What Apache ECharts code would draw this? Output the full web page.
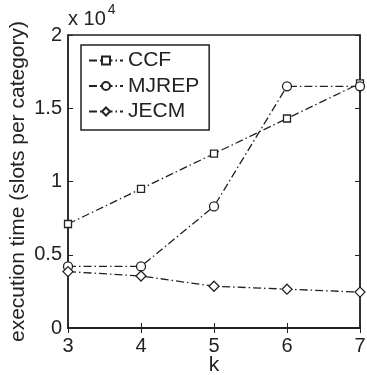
<!DOCTYPE html>
<html><head><meta charset="utf-8">
<script src="https://cdn.jsdelivr.net/npm/echarts@6/dist/echarts.min.js"></script>
<style>html,body{margin:0;padding:0;background:#fff}#c{width:367px;height:375px}</style>
</head><body><div id="c"></div>
<script>
var ks = [3, 4, 5, 6, 7];
var ccf = [7100, 9500, 11900, 14300, 16700];
var mjrep = [4200, 4200, 8300, 16500, 16500];
var jecm = [3850, 3550, 2850, 2650, 2450];
var yTicks = ['0', '0.5', '1', '1.5', '2'];

function pairs(v){ return ks.map(function(k,i){ return [k, v[i]]; }); }
var font = 'Liberation Sans, Arial, sans-serif';
var col = '#222';
var dash = [8, 3, 1.5, 3];
function mk(name, vals, sym, size){
  return {name:name, type:'line', data:pairs(vals), symbol:sym, symbolSize:size,
    showAllSymbol:true,
    lineStyle:{color:col, width:1.3, type:dash},
    itemStyle:{color:'#fff', borderColor:col, borderWidth:1.3},
    emphasis:{disabled:true}, animation:false};
}
var chart = echarts.init(document.getElementById('c'));
chart.setOption({
  animation:false,
  grid:{left:68, right:7, top:35, bottom:47, containLabel:false, outerBoundsMode:'none',
    show:true, borderColor:col, borderWidth:1.5, backgroundColor:'transparent'},
  legend:{left:81, top:45, orient:'vertical', itemGap:4.5, itemWidth:34, itemHeight:10,
    padding:[5,10,8,7], borderColor:col, borderWidth:1.5, backgroundColor:'#fff',
    textStyle:{fontFamily:font, fontSize:21, color:col},
    data:['CCF','MJREP','JECM']},
  xAxis:[{type:'value', min:3, max:7, interval:1, position:'bottom',
    name:'k', nameLocation:'middle', nameGap:27, nameMoveOverlap:false,
    nameTextStyle:{fontFamily:font, fontSize:21, color:col},
    axisLine:{show:true, lineStyle:{color:col, width:1.5}},
    axisTick:{inside:true, length:5, lineStyle:{color:col}},
    axisLabel:{fontFamily:font, fontSize:20, color:col, margin:8},
    splitLine:{show:false}},
   {type:'value', min:3, max:7, interval:1, position:'top',
    axisLine:{show:true, lineStyle:{color:col, width:1.5}},
    axisTick:{inside:true, length:5, lineStyle:{color:col}},
    axisLabel:{show:false}, splitLine:{show:false}}],
  yAxis:[{type:'value', min:0, max:20000, interval:5000, position:'left',
    name:'execution time (slots per category)', nameLocation:'middle', nameGap:39, nameMoveOverlap:false, nameRotate:90,
    nameTextStyle:{fontFamily:font, fontSize:21, color:col},
    axisLine:{show:true, lineStyle:{color:col, width:1.5}},
    axisTick:{inside:true, length:5, lineStyle:{color:col}},
    axisLabel:{fontFamily:font, fontSize:20, color:col, margin:6,
      formatter:function(v){ return yTicks[Math.round(v/5000)]; }},
    splitLine:{show:false}},
   {type:'value', min:0, max:20000, interval:5000, position:'right',
    axisLine:{show:true, lineStyle:{color:col, width:1.5}},
    axisTick:{inside:true, length:5, lineStyle:{color:col}},
    axisLabel:{show:false}, splitLine:{show:false}}],
  graphic:[{type:'text', left:68, top:3, style:{
    text:'{a|x 10}{b|4}', rich:{a:{fontFamily:font, fontSize:20, fill:col, verticalAlign:'bottom'},
      b:{fontFamily:font, fontSize:14, fill:col, verticalAlign:'top', padding:[0,0,12,2]}}}}],
  series:[mk('CCF', ccf, 'rect', 7), mk('MJREP', mjrep, 'circle', 9), mk('JECM', jecm, 'diamond', 10)]
});
</script></body></html>
